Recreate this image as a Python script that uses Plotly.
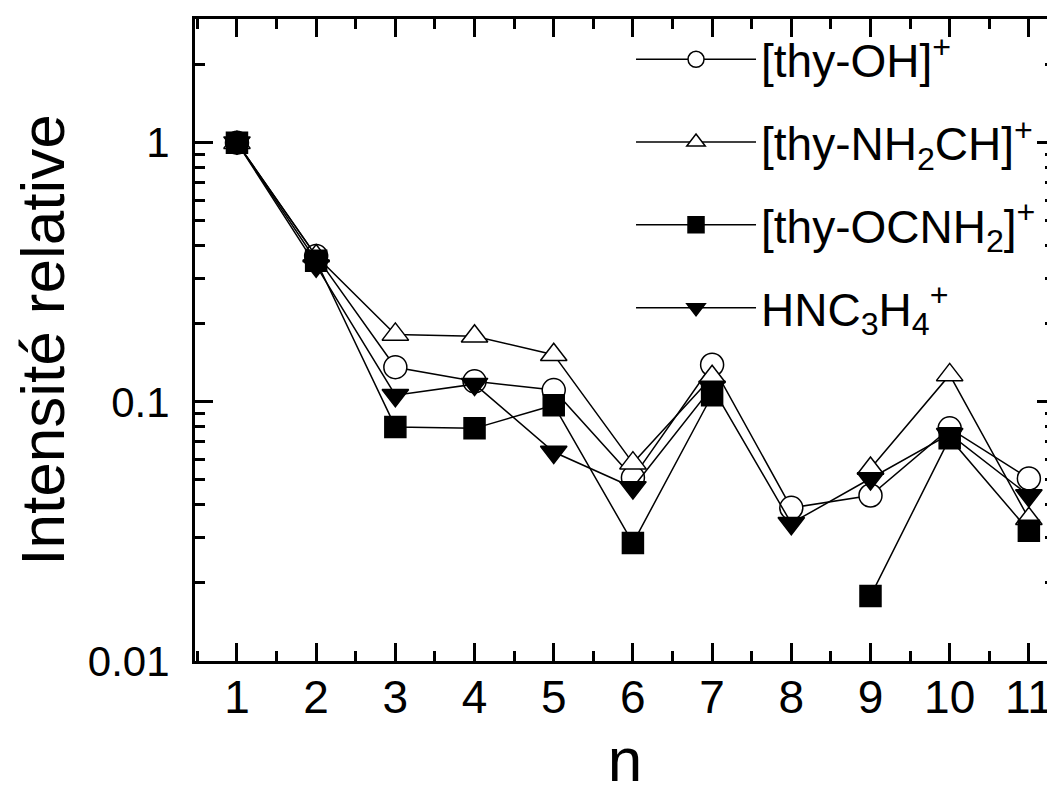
import plotly.graph_objects as go

# n values
n = [1, 2, 3, 4, 5, 6, 7, 8, 9, 10, 11]

# relative intensities (None = no point)
thy_oh = [1.0, 0.365, 0.136, 0.120, 0.111, 0.051, 0.139, 0.039, 0.0435, 0.079, 0.0506]
thy_nh2ch = [1.0, 0.365, 0.182, 0.179, 0.152, 0.058, 0.125, None, 0.0553, 0.127, 0.0354]
thy_ocnh2 = [1.0, 0.350, 0.080, 0.079, 0.097, 0.0285, 0.106, None, 0.0178, 0.0724, 0.0318]
hnc3h4 = [1.0, 0.335, 0.106, 0.117, 0.064, 0.0467, 0.114, 0.034, 0.0506, 0.075, 0.0435]

names = [
    "[thy-OH]<sup>+</sup>",
    "[thy-NH<sub>2</sub>CH]<sup>+</sup>",
    "[thy-OCNH<sub>2</sub>]<sup>+</sup>",
    "HNC<sub>3</sub>H<sub>4</sub><sup>+</sup>",
]
series = [thy_oh, thy_nh2ch, thy_ocnh2, hnc3h4]
symbols = ["circle", "triangle-up", "square", "triangle-down"]
fills = ["white", "white", "black", "black"]
sizes = [23, 23, 21, 23]

FONT = "Liberation Sans, Arial, sans-serif"

fig = go.Figure()
for i, (name, ys, sym, fc, sz) in enumerate(zip(names, series, symbols, fills, sizes)):
    fig.add_trace(go.Scatter(
        x=n, y=ys, name=name, mode="lines+markers",
        legendgroup=f"g{i}",
        line=dict(color="black", width=1.5),
        marker=dict(symbol=sym, size=sz, color=fc,
                    line=dict(color="black", width=1.5)),
        connectgaps=False,
    ))

# the page body adds an 8px offset, so the figure is sized to fit the window
fig.update_layout(
    width=1047, height=790,
    margin=dict(l=187, r=0, t=11, b=137),
    paper_bgcolor="white", plot_bgcolor="white",
    font=dict(family=FONT, color="black"),
    showlegend=True,
    legend=dict(
        x=0.507, y=0.994, xanchor="left", yanchor="top",
        font=dict(size=46, family=FONT),
        itemwidth=120, bgcolor="rgba(0,0,0,0)",
        tracegroupgap=20,
    ),
)

fig.update_xaxes(
    range=[0.47, 11.33], dtick=1, tick0=1,
    showgrid=False, zeroline=False, automargin=False,
    showline=True, linecolor="black", linewidth=3, mirror="ticks",
    ticks="inside", ticklen=18, tickwidth=3, tickcolor="black",
    tickfont=dict(size=46, family=FONT), ticklabelstandoff=-6,
    minor=dict(dtick=0.5, tick0=0.5, ticks="inside", ticklen=10, tickwidth=3, tickcolor="black"),
    title=dict(text="n", font=dict(size=62, family=FONT), standoff=16),
)

fig.update_yaxes(
    type="log", range=[-2, 0.477],
    tickvals=[0.01, 0.1, 1], ticktext=["0.01", "0.1", "1"],
    showgrid=False, zeroline=False, automargin=False,
    showline=True, linecolor="black", linewidth=3, mirror="ticks",
    ticks="inside", ticklen=18, tickwidth=3, tickcolor="black",
    tickfont=dict(size=42, family=FONT), ticklabelstandoff=14,
    minor=dict(dtick="D1", ticks="inside", ticklen=10, tickwidth=3, tickcolor="black"),
    title=dict(text="Intensité relative", font=dict(size=62, family=FONT), standoff=20),
)

fig.write_html("out.html")
